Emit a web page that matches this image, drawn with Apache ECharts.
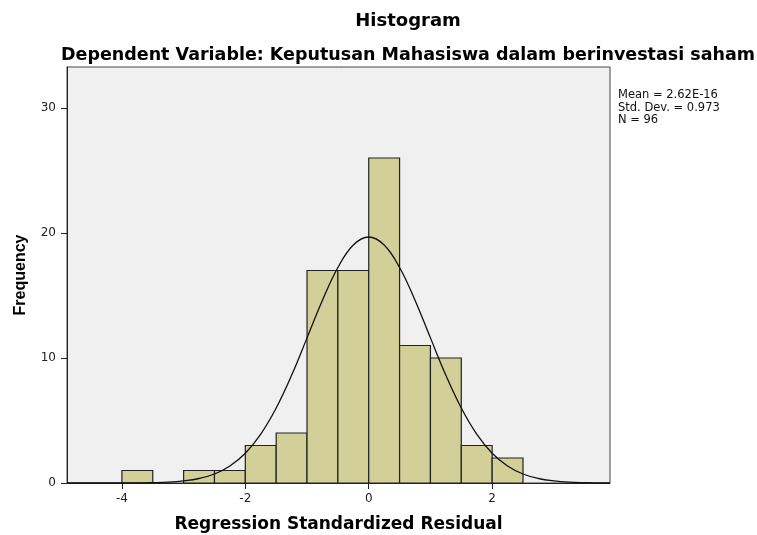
<!DOCTYPE html>
<html>
<head>
<meta charset="utf-8">
<script src="https://cdn.jsdelivr.net/npm/echarts@6/dist/echarts.min.js"></script>
<style>
  html, body { margin: 0; padding: 0; background: #fff; }
  #chart { width: 757px; height: 535px; }
</style>
</head>
<body>
<div id="chart"></div>
<script>
// bins of the residual histogram (width 0.5)
const binStarts = [-4, -3, -2.5, -2, -1.5, -1, -0.5, 0, 0.5, 1, 1.5, 2];
const binCounts = [1, 1, 1, 3, 4, 17, 17, 26, 11, 10, 3, 2];
const binWidth = 0.5;

// normal curve
const curveX = [-4.89, -4.5, -4, -3.75, -3.5, -3.25, -3, -2.75, -2.5, -2.25, -2, -1.75, -1.5, -1.25, -1, -0.75, -0.5, -0.25,
  0, 0.25, 0.5, 0.75, 1, 1.25, 1.5, 1.75, 2, 2.25, 2.5, 2.75, 3, 3.25, 3.5, 3.75, 3.91];
const curveY = [0, 0, 0, 0.01, 0.03, 0.07, 0.17, 0.36, 0.72, 1.36, 2.38, 3.91, 6.0, 8.62, 11.61, 14.62, 17.24, 19.04,
  19.68, 19.04, 17.24, 14.62, 11.61, 8.62, 6.0, 3.91, 2.38, 1.36, 0.72, 0.36, 0.17, 0.07, 0.03, 0.01, 0.01];

const xTicks = [-4, -2, 0, 2];
const yTicks = [0, 10, 20, 30];

const chart = echarts.init(document.getElementById("chart"));

const barData = binStarts.map((s, i) => [s, s + binWidth, binCounts[i]]);
const curveData = curveX.map((x, i) => [x, curveY[i]]);

const wide = "'DejaVu Sans', Verdana, sans-serif";
const narrow = "Arial, 'Liberation Sans', sans-serif";

const option = {
  animation: false,
  textStyle: { fontFamily: wide },
  title: [
    {
      text: "Histogram",
      left: 403,
      top: 7,
      textAlign: "center",
      textStyle: { fontSize: 18, fontWeight: "bold", color: "#000", fontFamily: wide },
    },
    {
      text: "Dependent Variable: Keputusan Mahasiswa dalam berinvestasi saham",
      left: 403,
      top: 41,
      textAlign: "center",
      textStyle: { fontSize: 17.5, fontWeight: "bold", color: "#000", fontFamily: wide },
    },
  ],
  grid: {
    left: 67,
    right: 147,
    top: 67,
    bottom: 52,
    containLabel: false,
    outerBoundsMode: "none",
    show: true,
    backgroundColor: "#f0f0f0",
    borderColor: "#444",
    borderWidth: 1,
  },
  xAxis: {
    type: "value",
    min: -4.89,
    max: 3.91,
    name: "Regression Standardized Residual",
    nameLocation: "middle",
    nameGap: 33,
    nameTextStyle: { fontSize: 17, fontWeight: "bold", color: "#000", fontFamily: wide },
    axisLine: { show: true, onZero: false, lineStyle: { color: "#222", width: 1 } },
    axisTick: { show: true, length: 6, customValues: xTicks, lineStyle: { color: "#222" } },
    axisLabel: { customValues: xTicks, color: "#222", fontSize: 12, margin: 10, fontFamily: wide },
    splitLine: { show: false },
  },
  yAxis: {
    type: "value",
    min: 0,
    max: 33.28,
    name: "Frequency",
    nameLocation: "middle",
    nameGap: 38,
    nameTextStyle: { fontSize: 16, fontWeight: "bold", color: "#000", fontFamily: narrow },
    axisLine: { show: true, onZero: false, lineStyle: { color: "#222", width: 1 } },
    axisTick: { show: true, length: 6, customValues: yTicks, lineStyle: { color: "#222" } },
    axisLabel: { customValues: yTicks, color: "#222", fontSize: 12, margin: 11, fontFamily: wide },
    splitLine: { show: false },
  },
  graphic: [
    {
      type: "text",
      left: 618,
      top: 89,
      style: {
        text: "Mean = 2.62E-16\nStd. Dev. = 0.973\nN = 96",
        fontSize: 11.5,
        lineHeight: 12.5,
        fill: "#111",
        fontFamily: wide,
      },
    },
  ],
  series: [
    {
      type: "custom",
      data: barData,
      renderItem: (params, api) => {
        const p0 = api.coord([api.value(0), api.value(2)]);
        const p1 = api.coord([api.value(1), 0]);
        return {
          type: "rect",
          shape: { x: p0[0], y: p0[1], width: p1[0] - p0[0], height: p1[1] - p0[1] },
          style: { fill: "#d3cf98", stroke: "#222", lineWidth: 1.2 },
        };
      },
      encode: { x: [0, 1], y: 2 },
      z: 2,
    },
    {
      type: "line",
      data: curveData,
      smooth: 0.4,
      showSymbol: false,
      lineStyle: { color: "#111", width: 1.3 },
      z: 3,
    },
  ],
};

chart.setOption(option);
window.addEventListener("resize", () => {
  chart.resize();
});
</script>
</body>
</html>
